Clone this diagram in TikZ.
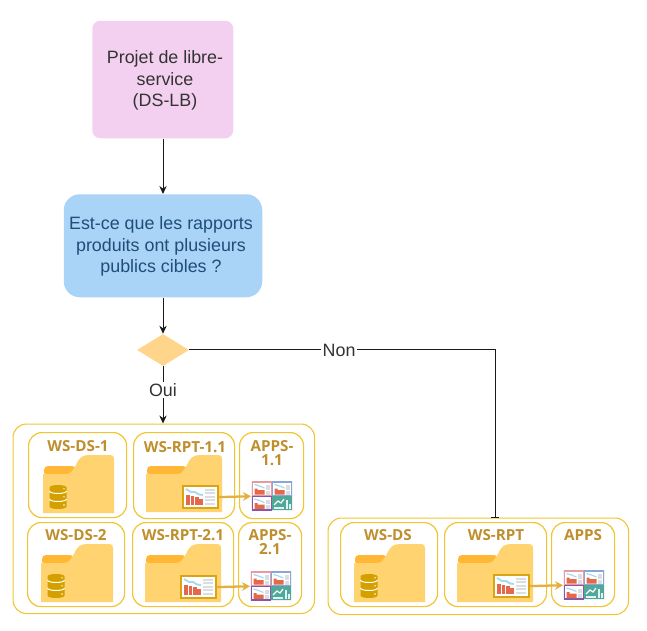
\documentclass[tikz,border=0pt]{standalone}
\usepackage{fontspec}
\setmainfont{Liberation Sans}
\newfontfamily\wsfont{Open Sans}
\usetikzlibrary{arrows.meta,shapes.geometric}
\definecolor{gold}{HTML}{F2C530}
\definecolor{wstext}{HTML}{BF8F2E}
\definecolor{foldfront}{HTML}{FFD36F}
\definecolor{foldback}{HTML}{FFB735}
\definecolor{dbcol}{HTML}{D4A000}
\definecolor{repbord}{HTML}{D9A514}
\definecolor{arrowgold}{HTML}{E3B040}
\definecolor{barcol}{HTML}{E4694A}
\definecolor{linecol}{HTML}{A8D8F0}
\definecolor{greycol}{HTML}{D9DEE2}
\definecolor{tealcol}{HTML}{4FA99A}
\definecolor{minired}{HTML}{E79AA0}
\definecolor{miniblue}{HTML}{8AA6D6}
\definecolor{minipurple}{HTML}{8A55A8}
\definecolor{pinkbox}{HTML}{F4D0F0}
\definecolor{bluebox}{HTML}{A9D3F7}
\definecolor{bluetext}{HTML}{1F4E79}
\definecolor{diamondcol}{HTML}{FFD58C}
\tikzset{
 x=0.75pt,y=-0.75pt,
 outerbox/.style={draw=gold,line width=0.8pt,rounded corners=10pt,fill=white,inner sep=0pt,anchor=north west},
 wsbox/.style={draw=gold,line width=0.9pt,rounded corners=10pt,fill=white,inner sep=0pt,anchor=north west},
 flowtext/.style={inner sep=0pt,align=center,font=\fontsize{13.4}{16}\selectfont},
 wslabel/.style={font=\wsfont\bfseries\fontsize{11.4}{11}\selectfont,text=wstext,align=center,inner sep=0pt},
 flowline/.style={draw=black!90,line width=0.75pt},
 flowarrow/.style={flowline,-{Stealth[length=6pt,width=5.5pt]}},
 bararrow/.style={flowline,-{Bar[width=5.5pt,line width=0.75pt]}},
 goldarrow/.style={draw=arrowgold,line width=1.7pt,-{Stealth[length=6pt,width=6.5pt]}},
 edgelabel/.style={fill=white,inner sep=1pt,font=\fontsize{13.4}{14}\selectfont,text=black!80},
}
% name, x1, y1, x2, y2, style
\newcommand{\boxnode}[6]{%
 \pgfmathsetmacro{\bw}{(#4-#2)*0.75}\pgfmathsetmacro{\bh}{(#5-#3)*0.75}%
 \node[#6,minimum width=\bw pt,minimum height=\bh pt] (#1) at (#2,#3) {};%
}
% left, top, right, bottom, tab position
\newcommand{\foldericon}[5]{%
 \begin{scope}[shift={(#1,#2)}]
 \fill[foldback,rounded corners=3pt] (1,21) -- (1,11) -- (#5+6,11) -- (#5+6,21) -- cycle;
 \fill[foldfront] (0,19) -- (#5-4,19) .. controls (#5+1,19) and (#5+2,16) .. (#5+6,10)
  .. controls (#5+9,3) and (#5+12,0) .. (#5+19,0)
  -- (#3-#1-4,0) .. controls (#3-#1-1,0) and (#3-#1,1) .. (#3-#1,4)
  -- (#3-#1,#4-#2) -- (0,#4-#2) -- cycle;
 \end{scope}
}
% centre x, top y
\newcommand{\dbicon}[2]{%
 \begin{scope}[shift={(#1,#2)}]
 \fill[dbcol] (-8.5,2.5) .. controls (-8.5,-0.8) and (8.5,-0.8) .. (8.5,2.5)
   -- (8.5,21.5) .. controls (8.5,24.8) and (-8.5,24.8) .. (-8.5,21.5) -- cycle;
 \foreach \yy in {6,14}{
  \draw[white,line width=0.75pt] (-8.5,\yy) .. controls (-8.5,\yy+3.3) and (8.5,\yy+3.3) .. (8.5,\yy);
  \fill[white] (6,\yy-2.2) circle (0.8);
 }
 \fill[white] (6,20) circle (0.8);
 \end{scope}
}
% name, x, y
\newcommand{\reporticon}[3]{%
 \node[draw=repbord,fill=white,line width=1.6pt,inner sep=0pt,anchor=north west,minimum width=26.25pt,minimum height=16.5pt] (#1) at (#2+1,#3+1) {};
 \begin{scope}[shift={(#2,#3)}]
 \draw[linecol,line width=1.4pt] (5,5) -- (10,8) -- (14,8) -- (18,10.5) -- (22,11);
 \foreach \xa/\ya in {5/10.5,9.5/12,14/12.5,18/14.5}{\fill[barcol] (\xa,\ya) rectangle (\xa+3.6,21);}
 \foreach \yb in {4.5,8,11.5,15,18.5}{\fill[greycol] (24,\yb) rectangle (33.5,\yb+2.2);}
 \end{scope}
}
% x, y, border colour
\newcommand{\miniicon}[3]{%
 \begin{scope}[shift={(#1,#2)}]
 \draw[#3,line width=0.95pt,fill=white] (0,0) rectangle (19,13.5);
 \fill[barcol] (2,6.5) -- (5,6.5) -- (5,8) -- (12,8) -- (12,12.5) -- (2,12.5) -- cycle;
 \draw[linecol,line width=0.9pt] (2,2.5) -- (7,4) -- (12,6);
 \fill[greycol] (13,3) rectangle (17.5,7.5);
 \fill[greycol] (13,8.5) rectangle (17.5,12.5);
 \end{scope}
}
% name, x, y
\newcommand{\appsicon}[3]{%
 \node[fill=black!6,inner sep=0pt,anchor=north west,minimum width=31.5pt,minimum height=22.5pt] (#1) at (#2,#3) {};
 \begin{scope}[shift={(#2,#3)}]
 \miniicon{1.5}{1}{minired}
 \miniicon{21.5}{1}{miniblue}
 \miniicon{1.5}{15.5}{minipurple}
 \fill[tealcol] (21,15) rectangle (40.5,29);
 \draw[white,line width=0.9pt] (23,24) -- (27,20) -- (30,22) -- (33,18);
 \fill[white!85!tealcol] (35,19) rectangle (36.5,28);
 \fill[white!85!tealcol] (38,23) rectangle (39.5,28);
 \fill[white!85!tealcol] (23,26) rectangle (33,28);
 \end{scope}
}
\begin{document}
\begin{tikzpicture}
\useasboundingbox (0,0) rectangle (647,631);
% flow shapes
\boxnode{project}{92}{20.5}{233}{138}{fill=pinkbox,rounded corners=6pt,inner sep=0pt,anchor=north west}
\node[flowtext,text=black!80] (projecttext) at (165,80.5) {Projet de libre-\\service\\(DS-LB)};
\boxnode{question}{63.5}{194}{262}{297}{fill=bluebox,rounded corners=12pt,inner sep=0pt,anchor=north west}
\node[flowtext,text=bluetext] (questiontext) at (161,246.5) {Est-ce que les rapports\\produits ont plusieurs\\publics cibles ?};
\node[diamond,fill=diamondcol,inner sep=0pt,minimum width=39pt,minimum height=24pt] (decision) at (163,350) {};
% containers
\boxnode{outerleft}{12.5}{423.5}{314}{613}{outerbox}
\boxnode{outerright}{327.5}{517.5}{628}{614}{outerbox}
\coordinate (nonentry) at (495,350);
% workspaces, left
\boxnode{dsone}{28}{432}{126}{517}{wsbox}
\boxnode{rptone}{133}{432}{234}{518}{wsbox}
\boxnode{appsone}{239}{432}{303}{518}{wsbox}
\boxnode{dstwo}{27}{522}{124}{606}{wsbox}
\boxnode{rpttwo}{132}{522}{233}{606}{wsbox}
\boxnode{appstwo}{238}{522}{301}{606}{wsbox}
% workspaces, right
\boxnode{dsthree}{340}{522}{437}{606}{wsbox}
\boxnode{rptthree}{444}{522}{546}{606}{wsbox}
\boxnode{appsthree}{551}{522}{614}{606}{wsbox}
% labels
\node[wslabel] (l1) at (78,446) {WS-DS-1};
\node[wslabel] (l2) at (185,447) {WS-RPT-1.1};
\node[wslabel] (l3) at (272,453) {APPS-\\1.1};
\node[wslabel] (l4) at (76,535) {WS-DS-2};
\node[wslabel] (l5) at (183,535) {WS-RPT-2.1};
\node[wslabel] (l6) at (270,542) {APPS-\\2.1};
\node[wslabel] (l7) at (388,535) {WS-DS};
\node[wslabel] (l8) at (496,535) {WS-RPT};
\node[wslabel] (l9) at (583,535) {APPS};
% folders
\foldericon{43}{455}{114}{513}{27}
\foldericon{146}{455}{222}{512}{35}
\foldericon{41}{544}{113}{602}{27}
\foldericon{145}{544}{221}{602}{35}
\foldericon{354}{544}{425}{602}{27}
\foldericon{457}{544}{533}{602}{35}
% databases
\dbicon{58}{485}
\dbicon{56}{574}
\dbicon{369}{574}
% reports and apps
\reporticon{repone}{181}{484}
\reporticon{reptwo}{179}{574}
\reporticon{repthree}{492}{573}
\appsicon{iconone}{251}{481}
\appsicon{icontwo}{250}{571}
\appsicon{iconthree}{563}{570}
\draw[goldarrow] (repone.east) -- (iconone.west);
\draw[goldarrow] (reptwo.east) -- (icontwo.west);
\draw[goldarrow] (repthree.east) -- (iconthree.west);
% connectors
\draw[flowarrow] (project.south -| decision) -- (question.north -| decision);
\draw[flowarrow] (question.south -| decision) -- (decision.north);
\draw[flowarrow] (decision.south) -- node[edgelabel,pos=0.42] (oui) {Oui} (decision.south |- outerleft.north);
\draw[bararrow] (decision.east) -- node[edgelabel,pos=0.49] (non) {Non} (nonentry) -- (nonentry |- outerright.north);
\end{tikzpicture}
\end{document}
